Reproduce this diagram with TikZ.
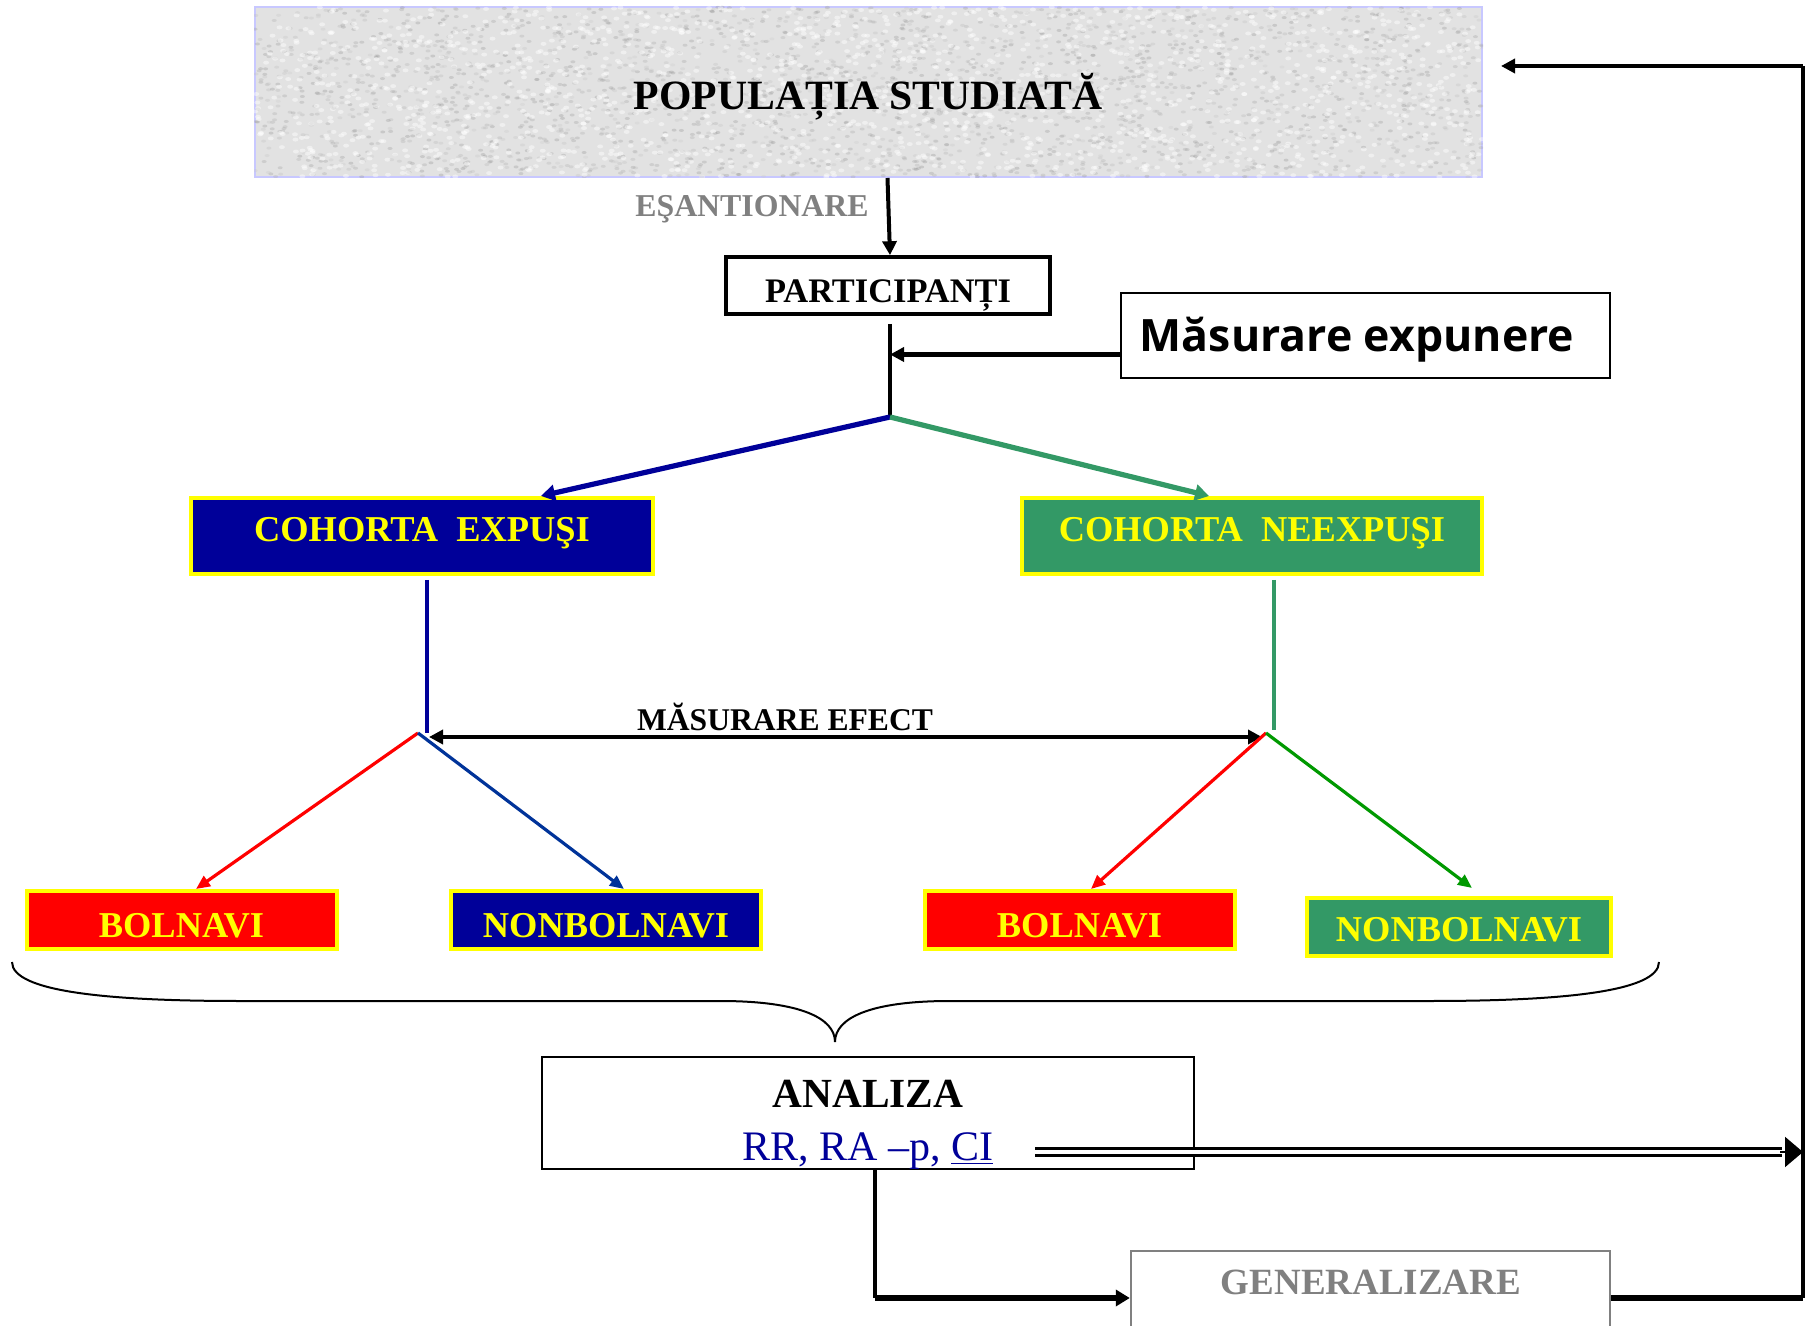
\documentclass[tikz,border=0pt]{standalone}
\usepackage{fontspec}
\setmainfont{Liberation Serif}
\newfontfamily\osans{Open Sans}
\usetikzlibrary{arrows.meta,calc}
\definecolor{dblue}{HTML}{000099}
\definecolor{cgreen}{HTML}{339966}
\definecolor{agreen}{HTML}{009900}
\definecolor{ablue}{HTML}{003399}
\definecolor{cyell}{HTML}{FFFF00}
\definecolor{cred}{HTML}{FF0000}
\definecolor{lav}{HTML}{C8C8FF}
\definecolor{texgray}{HTML}{E2E2E2}
\definecolor{tgray}{HTML}{808080}
\begin{document}
\begin{tikzpicture}[x=0.5pt,y=-0.5pt,
  colbox/.style={draw=cyell,line width=2pt,inner sep=0pt,text=cyell,font=\bfseries\fontsize{18.2}{20}\selectfont},
  cohbox/.style={colbox,minimum height=38pt,text height=12pt,text depth=6.2pt},
  smallbox/.style={colbox,minimum width=155pt,minimum height=29pt,text height=17pt,text depth=0pt},
  blk/.style={-{Triangle[length=7pt,width=7pt]},line width=2pt},
  thin/.style={-{Triangle[length=7pt,width=6pt]},line width=1.6pt}
]
\useasboundingbox (0,0) rectangle (1806,1326);
% population
\node[draw=lav,line width=1pt,fill=texgray,minimum width=613.5pt,minimum height=85pt,inner sep=0pt] (pop) at (868.5,92) {};
\begin{scope}
\clip (pop.south west) rectangle (pop.north east);
\pgfmathsetseed{7}
\foreach \i in {1,...,2600}{
  \pgfmathsetmacro{\xx}{255+1227*rnd}
  \pgfmathsetmacro{\yy}{7+170*rnd}
  \pgfmathsetmacro{\gg}{20+25*rnd}
  \fill[black!\gg!white,opacity=0.3] (\xx,\yy) ellipse (2.5 and 1.5);
}
\foreach \i in {1,...,1600}{
  \pgfmathsetmacro{\xx}{255+1227*rnd}
  \pgfmathsetmacro{\yy}{7+170*rnd}
  \fill[white,opacity=0.45] (\xx,\yy) ellipse (3 and 2);
}
\end{scope}
\node[font=\bfseries\fontsize{20.85}{24}\selectfont] (popt) at (868,97) {POPULAȚIA STUDIATĂ};
\node[text=tgray,font=\bfseries\fontsize{15.9}{18}\selectfont] (esa) at (752,209.5) {EŞANTIONARE};
% participants
\node[draw,line width=1.8pt,minimum width=162pt,minimum height=28.5pt,inner sep=0pt] (part) at (888,285.5) {};
\node[font=\bfseries\fontsize{17.2}{20}\selectfont] (partt) at (888,296) {PARTICIPANȚI};
\node[draw,line width=1pt,minimum width=244.5pt,minimum height=42.5pt,inner sep=0pt] (meas) at (1365.5,335.5) {};
\node[font=\osans\bfseries\fontsize{22.3}{26}\selectfont] (meast) at (1357,340) {Măsurare expunere};
\coordinate (split) at (890,417);
\draw[blk] ([xshift=9.5pt]pop.south) -- ([xshift=1pt]part.north);
\draw[line width=2pt] ([xshift=1pt,yshift=-4pt]part.south) -- (split);
\draw[blk,line width=2.3pt] ([yshift=-9.5pt]meas.west) -- ([yshift=-9.5pt]meas.west -| split);
% cohorts
\node[cohbox,fill=dblue,minimum width=231pt] (cexp) at (422,536) {COHORTA\hspace{0.5em}EXPUŞI};
\node[cohbox,fill=cgreen,minimum width=230pt] (cne) at (1252,536) {COHORTA\hspace{0.5em}NEEXPUŞI};
\draw[-{Triangle[length=7pt,width=8pt]},line width=2.6pt,dblue] (split) -- ([xshift=59.5pt]cexp.north);
\draw[-{Triangle[length=7pt,width=8pt]},line width=2.6pt,cgreen] (split) -- ([xshift=-21.5pt]cne.north);
% branches
\coordinate (bl) at (418,733);
\coordinate (br) at (1266,733);
\coordinate (vl) at (427,733);
\coordinate (vr) at (1274,730);
\draw[line width=1.8pt,dblue] ([xshift=2.5pt,yshift=-2pt]cexp.south) -- (vl);
\draw[line width=1.8pt,cgreen] ([xshift=11pt,yshift=-2pt]cne.south) -- (vr);
\coordinate (mel) at (429,737);
\coordinate (mer) at (1262,737);
\draw[{Triangle[length=7pt,width=7pt]}-{Triangle[length=7pt,width=7pt]},line width=1.8pt] (mel) -- (mer);
\node[font=\bfseries\fontsize{15.8}{18}\selectfont] (mef) at (785,717) {MĂSURARE EFECT};
% outcome boxes
\node[smallbox,fill=cred] (b1) at (181.5,920) {BOLNAVI};
\node[smallbox,fill=dblue] (n1) at (606,920) {NONBOLNAVI};
\node[smallbox,fill=cred] (b2) at (1079.5,920) {BOLNAVI};
\node[smallbox,fill=cgreen,minimum width=152pt,text height=14.5pt] (n2) at (1459,927) {NONBOLNAVI};
\draw[thin,cred] (bl) -- ([xshift=7.25pt]b1.north);
\draw[thin,ablue] (bl) -- ([xshift=9pt]n1.north);
\draw[thin,cred] (br) -- ([xshift=5.75pt]b2.north);
\draw[thin,agreen] (br) -- ([xshift=6.5pt,yshift=4pt]n2.north);
% brace
\draw[line width=1pt] (12,962) .. controls (12,992) and (110,1001) .. (240,1001) -- (720,1001) .. controls (800,1001) and (835,1018) .. (835,1042)
  .. controls (835,1018) and (870,1001) .. (950,1001) -- (1430,1001) .. controls (1560,1001) and (1659,992) .. (1659,962);
% analysis
\node[draw,line width=1pt,minimum width=326pt,minimum height=56pt,inner sep=0pt] (ana) at (868,1113) {};
\node[font=\bfseries\fontsize{20.7}{24}\selectfont] (anat) at (868,1094) {ANALIZA};
\node[text=dblue,font=\fontsize{21}{24}\selectfont] (rr) at (868,1151) {RR, RA –p, \underline{CI}};
\coordinate (rtop) at (1803,66);
\coordinate (rbot) at (1803,1298);
\coordinate (dstart) at (1035,1152);
\draw[double,double distance=2pt,line width=1.6pt] (dstart) -- (1782,1152);
\draw[-{Triangle[length=9pt,width=15pt]},line width=1pt] (1780,1152) -- (dstart -| rtop);
% generalisation
\node[draw=tgray,line width=1.2pt,minimum width=239.5pt,minimum height=50pt,inner sep=0pt,anchor=north] (gen) at (1370.5,1250) {};
\node[text=tgray,font=\bfseries\fontsize{18.5}{21}\selectfont] (gent) at (1371,1282) {GENERALIZARE};
\coordinate (c1) at (875,1298);
\draw[line width=1.6pt] (ana.south -| c1) -- (c1);
\draw[-{Triangle[length=7pt,width=8pt]},line width=3pt] (c1) -- (gen.west |- c1);
\draw[line width=3pt] (gen.east |- rbot) -- (rbot);
\draw[line width=2pt] (rbot) -- (rtop);
\draw[blk] (rtop) -- ([xshift=9pt]pop.east |- rtop);
\end{tikzpicture}
\end{document}
